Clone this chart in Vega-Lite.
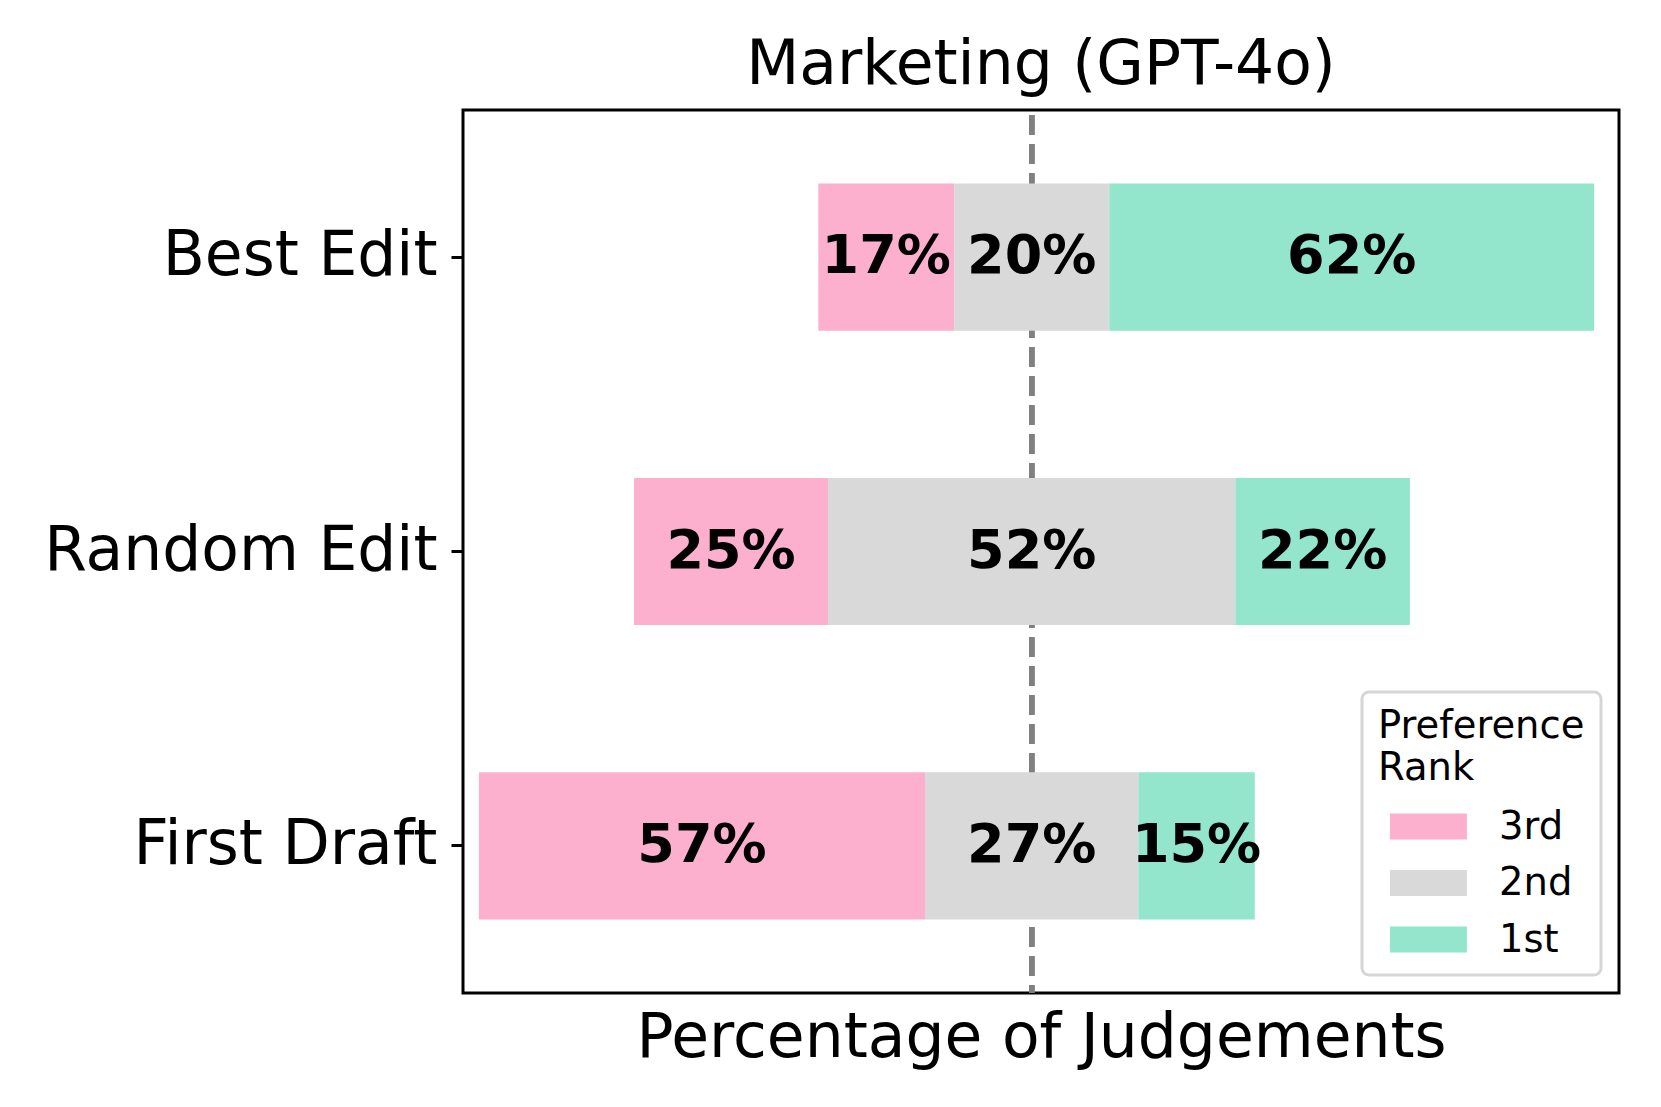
{
  "$schema": "https://vega.github.io/schema/vega-lite/v6.json",
  "width": 1156,
  "height": 883,
  "autosize": {"type": "none"},
  "padding": {"left": 463, "top": 110, "right": 42, "bottom": 114},
  "background": "white",
  "title": {"text": "Marketing (GPT-4o)", "font": "DejaVu Sans", "fontSize": 61.5, "fontWeight": "normal", "color": "black", "anchor": "middle", "baseline": "alphabetic", "offset": 23, "dy": 61, "frame": "group"},
  "config": {
    "view": {"stroke": "black", "strokeWidth": 3},
    "font": "DejaVu Sans"
  },
  "data": {
    "values": [
      {"method": "Best Edit", "rank": "3rd", "pct": 17.5, "label": "17%"},
      {"method": "Best Edit", "rank": "2nd", "pct": 20.0, "label": "20%"},
      {"method": "Best Edit", "rank": "1st", "pct": 62.5, "label": "62%"},
      {"method": "Random Edit", "rank": "3rd", "pct": 25.0, "label": "25%"},
      {"method": "Random Edit", "rank": "2nd", "pct": 52.5, "label": "52%"},
      {"method": "Random Edit", "rank": "1st", "pct": 22.5, "label": "22%"},
      {"method": "First Draft", "rank": "3rd", "pct": 57.5, "label": "57%"},
      {"method": "First Draft", "rank": "2nd", "pct": 27.5, "label": "27%"},
      {"method": "First Draft", "rank": "1st", "pct": 15.0, "label": "15%"}
    ]
  },
  "transform": [
    {"calculate": "datum.rank === '3rd' ? 0 : (datum.rank === '2nd' ? 1 : 2)", "as": "ord"},
    {"calculate": "datum.ord === 0 ? datum.pct : (datum.ord === 1 ? datum.pct / 2 : 0)", "as": "pre"},
    {"joinaggregate": [{"op": "sum", "field": "pre", "as": "shift"}], "groupby": ["method"]},
    {"stack": "pct", "groupby": ["method"], "sort": [{"field": "ord", "order": "ascending"}], "as": ["s0", "s1"]},
    {"calculate": "datum.s0 - datum.shift", "as": "x0"},
    {"calculate": "datum.s1 - datum.shift", "as": "x1"},
    {"calculate": "(datum.x0 + datum.x1) / 2", "as": "xm"}
  ],
  "layer": [
    {
      "mark": {"type": "rule", "color": "#808080", "strokeWidth": 5, "strokeDash": [20, 9], "strokeDashOffset": -5},
      "encoding": {"x": {"datum": 0, "type": "quantitative"}}
    },
    {
      "mark": {"type": "bar", "opacity": 1},
      "encoding": {
        "y": {"field": "method", "type": "nominal", "sort": ["Best Edit", "Random Edit", "First Draft"],
              "scale": {"paddingInner": 0.5, "paddingOuter": 0.25},
              "axis": {"title": null, "domain": false, "labelFont": "DejaVu Sans", "labelFontSize": 61.5, "labelColor": "black", "tickColor": "black", "tickSize": 12, "tickWidth": 3, "labelPadding": 14, "labelLimit": 600}},
        "x": {"field": "x0", "type": "quantitative", "scale": {"domain": [-73.3, 75.7], "nice": false, "zero": false},
              "axis": {"title": "Percentage of Judgements", "titleFont": "DejaVu Sans", "titleFontSize": 61.5, "titleFontWeight": "normal", "titleColor": "black", "titlePadding": 14, "labels": false, "ticks": false, "domain": false, "grid": false}},
        "x2": {"field": "x1"},
        "color": {"field": "rank", "type": "nominal",
                  "scale": {"domain": ["3rd", "2nd", "1st"], "range": ["#fcb0ce", "#d9d9d9", "#93e5cc"]},
                  "legend": {"title": ["Preference", "Rank"], "orient": "bottom-right", "offset": 18,
                             "titleFont": "DejaVu Sans", "titleFontSize": 38.5, "titleFontWeight": "normal", "titleColor": "black", "titleLineHeight": 42, "titlePadding": 12, "titleLimit": 500,
                             "labelFont": "DejaVu Sans", "labelFontSize": 38.5, "labelColor": "black", "labelOffset": 69, "labelLimit": 300,
                             "symbolType": "M-0.54,-0.5L2.42,-0.5L2.42,0.5L-0.54,0.5Z", "symbolSize": 2704, "symbolStrokeWidth": 0, "symbolOpacity": 1,
                             "rowPadding": 10.5, "padding": 16, "strokeColor": "#d6d6d6", "cornerRadius": 7, "fillColor": "white",
                             "encode": {"legend": {"update": {"strokeWidth": {"value": 3}}}}}}
      }
    },
    {
      "mark": {"type": "text", "font": "DejaVu Sans", "fontWeight": "bold", "fontSize": 54, "color": "black", "align": "center", "baseline": "middle"},
      "encoding": {
        "y": {"field": "method", "type": "nominal", "sort": ["Best Edit", "Random Edit", "First Draft"]},
        "x": {"field": "xm", "type": "quantitative"},
        "text": {"field": "label", "type": "nominal"}
      }
    }
  ]
}
